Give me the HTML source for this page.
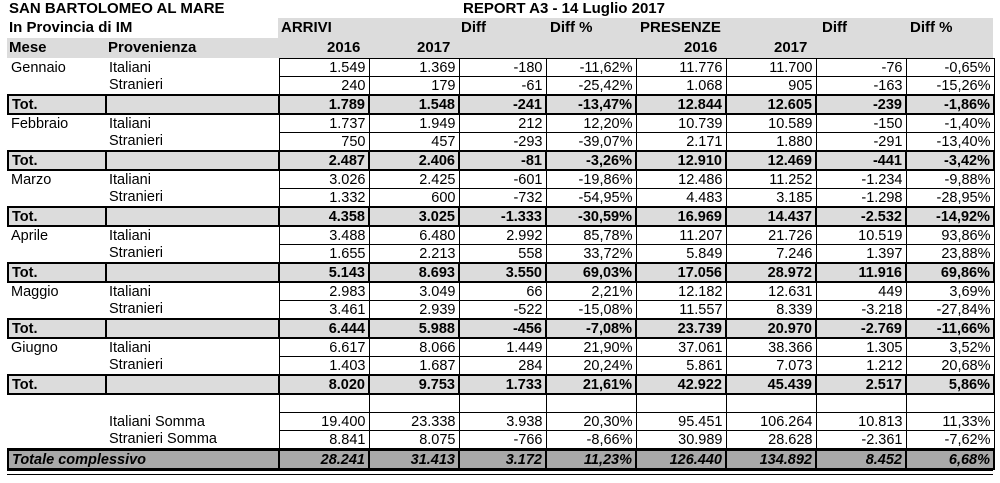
<!DOCTYPE html>
<html><head><meta charset="utf-8"><style>
body{margin:0;background:#fff;width:1000px;height:483px;overflow:hidden;position:relative;font-family:"Liberation Sans",Arial,sans-serif;font-size:14.5px;color:#000}
.t{position:absolute;font-weight:bold;white-space:nowrap;font-size:15px}
table{position:absolute;left:7px;top:58px;border-collapse:collapse;table-layout:fixed}
td{padding:0 3px;height:17px;line-height:16px;white-space:nowrap;overflow:hidden}
td.n{text-align:right;border:1.5px solid #000}
tr.tot td{background:#dcdcdc;border:2px solid #000;font-weight:bold}
tr.tc td{background:#a8a8a8;border:2px solid #000;border-top:3px solid #000;font-weight:bold;font-style:italic}
.hdr{position:absolute;background:#dcdcdc}
.dbl{position:absolute;left:7px;width:986px;top:470px;height:3px;border-top:1.5px solid #000;border-bottom:1.5px solid #000}
</style></head><body>
<div class="hdr" style="left:278px;top:18px;width:715px;height:20px"></div>
<div class="hdr" style="left:7px;top:38px;width:986px;height:20px"></div>
<div class="t" style="left:9px;top:0px">SAN BARTOLOMEO AL MARE</div>
<div class="t" style="left:463px;top:0px">REPORT A3 - 14 Luglio 2017</div>
<div class="t" style="left:9px;top:19px">In Provincia di IM</div>
<div class="t" style="left:281px;top:19px">ARRIVI</div>
<div class="t" style="left:461px;top:19px">Diff</div>
<div class="t" style="left:550px;top:19px">Diff %</div>
<div class="t" style="left:640px;top:19px">PRESENZE</div>
<div class="t" style="left:822px;top:19px">Diff</div>
<div class="t" style="left:910px;top:19px">Diff %</div>
<div class="t" style="left:9px;top:39px">Mese</div>
<div class="t" style="left:108px;top:39px">Provenienza</div>
<div class="t" style="left:327px;top:39px">2016</div>
<div class="t" style="left:417px;top:39px">2017</div>
<div class="t" style="left:684px;top:39px">2016</div>
<div class="t" style="left:774px;top:39px">2017</div>
<table>
<colgroup><col style="width:98px"><col style="width:173px"><col style="width:90px"><col style="width:90px"><col style="width:87px"><col style="width:90px"><col style="width:90px"><col style="width:90px"><col style="width:90px"><col style="width:88px"></colgroup>
<tr><td>Gennaio</td><td>Italiani</td><td class="n">1.549</td><td class="n">1.369</td><td class="n">-180</td><td class="n">-11,62%</td><td class="n">11.776</td><td class="n">11.700</td><td class="n">-76</td><td class="n">-0,65%</td></tr>
<tr><td></td><td>Stranieri</td><td class="n">240</td><td class="n">179</td><td class="n">-61</td><td class="n">-25,42%</td><td class="n">1.068</td><td class="n">905</td><td class="n">-163</td><td class="n">-15,26%</td></tr>
<tr class="tot"><td>Tot.</td><td></td><td class="n">1.789</td><td class="n">1.548</td><td class="n">-241</td><td class="n">-13,47%</td><td class="n">12.844</td><td class="n">12.605</td><td class="n">-239</td><td class="n">-1,86%</td></tr>
<tr><td>Febbraio</td><td>Italiani</td><td class="n">1.737</td><td class="n">1.949</td><td class="n">212</td><td class="n">12,20%</td><td class="n">10.739</td><td class="n">10.589</td><td class="n">-150</td><td class="n">-1,40%</td></tr>
<tr><td></td><td>Stranieri</td><td class="n">750</td><td class="n">457</td><td class="n">-293</td><td class="n">-39,07%</td><td class="n">2.171</td><td class="n">1.880</td><td class="n">-291</td><td class="n">-13,40%</td></tr>
<tr class="tot"><td>Tot.</td><td></td><td class="n">2.487</td><td class="n">2.406</td><td class="n">-81</td><td class="n">-3,26%</td><td class="n">12.910</td><td class="n">12.469</td><td class="n">-441</td><td class="n">-3,42%</td></tr>
<tr><td>Marzo</td><td>Italiani</td><td class="n">3.026</td><td class="n">2.425</td><td class="n">-601</td><td class="n">-19,86%</td><td class="n">12.486</td><td class="n">11.252</td><td class="n">-1.234</td><td class="n">-9,88%</td></tr>
<tr><td></td><td>Stranieri</td><td class="n">1.332</td><td class="n">600</td><td class="n">-732</td><td class="n">-54,95%</td><td class="n">4.483</td><td class="n">3.185</td><td class="n">-1.298</td><td class="n">-28,95%</td></tr>
<tr class="tot"><td>Tot.</td><td></td><td class="n">4.358</td><td class="n">3.025</td><td class="n">-1.333</td><td class="n">-30,59%</td><td class="n">16.969</td><td class="n">14.437</td><td class="n">-2.532</td><td class="n">-14,92%</td></tr>
<tr><td>Aprile</td><td>Italiani</td><td class="n">3.488</td><td class="n">6.480</td><td class="n">2.992</td><td class="n">85,78%</td><td class="n">11.207</td><td class="n">21.726</td><td class="n">10.519</td><td class="n">93,86%</td></tr>
<tr><td></td><td>Stranieri</td><td class="n">1.655</td><td class="n">2.213</td><td class="n">558</td><td class="n">33,72%</td><td class="n">5.849</td><td class="n">7.246</td><td class="n">1.397</td><td class="n">23,88%</td></tr>
<tr class="tot"><td>Tot.</td><td></td><td class="n">5.143</td><td class="n">8.693</td><td class="n">3.550</td><td class="n">69,03%</td><td class="n">17.056</td><td class="n">28.972</td><td class="n">11.916</td><td class="n">69,86%</td></tr>
<tr><td>Maggio</td><td>Italiani</td><td class="n">2.983</td><td class="n">3.049</td><td class="n">66</td><td class="n">2,21%</td><td class="n">12.182</td><td class="n">12.631</td><td class="n">449</td><td class="n">3,69%</td></tr>
<tr><td></td><td>Stranieri</td><td class="n">3.461</td><td class="n">2.939</td><td class="n">-522</td><td class="n">-15,08%</td><td class="n">11.557</td><td class="n">8.339</td><td class="n">-3.218</td><td class="n">-27,84%</td></tr>
<tr class="tot"><td>Tot.</td><td></td><td class="n">6.444</td><td class="n">5.988</td><td class="n">-456</td><td class="n">-7,08%</td><td class="n">23.739</td><td class="n">20.970</td><td class="n">-2.769</td><td class="n">-11,66%</td></tr>
<tr><td>Giugno</td><td>Italiani</td><td class="n">6.617</td><td class="n">8.066</td><td class="n">1.449</td><td class="n">21,90%</td><td class="n">37.061</td><td class="n">38.366</td><td class="n">1.305</td><td class="n">3,52%</td></tr>
<tr><td></td><td>Stranieri</td><td class="n">1.403</td><td class="n">1.687</td><td class="n">284</td><td class="n">20,24%</td><td class="n">5.861</td><td class="n">7.073</td><td class="n">1.212</td><td class="n">20,68%</td></tr>
<tr class="tot"><td>Tot.</td><td></td><td class="n">8.020</td><td class="n">9.753</td><td class="n">1.733</td><td class="n">21,61%</td><td class="n">42.922</td><td class="n">45.439</td><td class="n">2.517</td><td class="n">5,86%</td></tr>
<tr><td></td><td></td><td class="n"></td><td class="n"></td><td class="n"></td><td class="n"></td><td class="n"></td><td class="n"></td><td class="n"></td><td class="n"></td></tr>
<tr><td></td><td>Italiani Somma</td><td class="n">19.400</td><td class="n">23.338</td><td class="n">3.938</td><td class="n">20,30%</td><td class="n">95.451</td><td class="n">106.264</td><td class="n">10.813</td><td class="n">11,33%</td></tr>
<tr><td></td><td>Stranieri Somma</td><td class="n">8.841</td><td class="n">8.075</td><td class="n">-766</td><td class="n">-8,66%</td><td class="n">30.989</td><td class="n">28.628</td><td class="n">-2.361</td><td class="n">-7,62%</td></tr>
<tr class="tc"><td colspan="2" style="border-right:2px solid #000">Totale complessivo</td><td class="n">28.241</td><td class="n">31.413</td><td class="n">3.172</td><td class="n">11,23%</td><td class="n">126.440</td><td class="n">134.892</td><td class="n">8.452</td><td class="n">6,68%</td></tr>
</table>
<div class="dbl"></div>
</body></html>
